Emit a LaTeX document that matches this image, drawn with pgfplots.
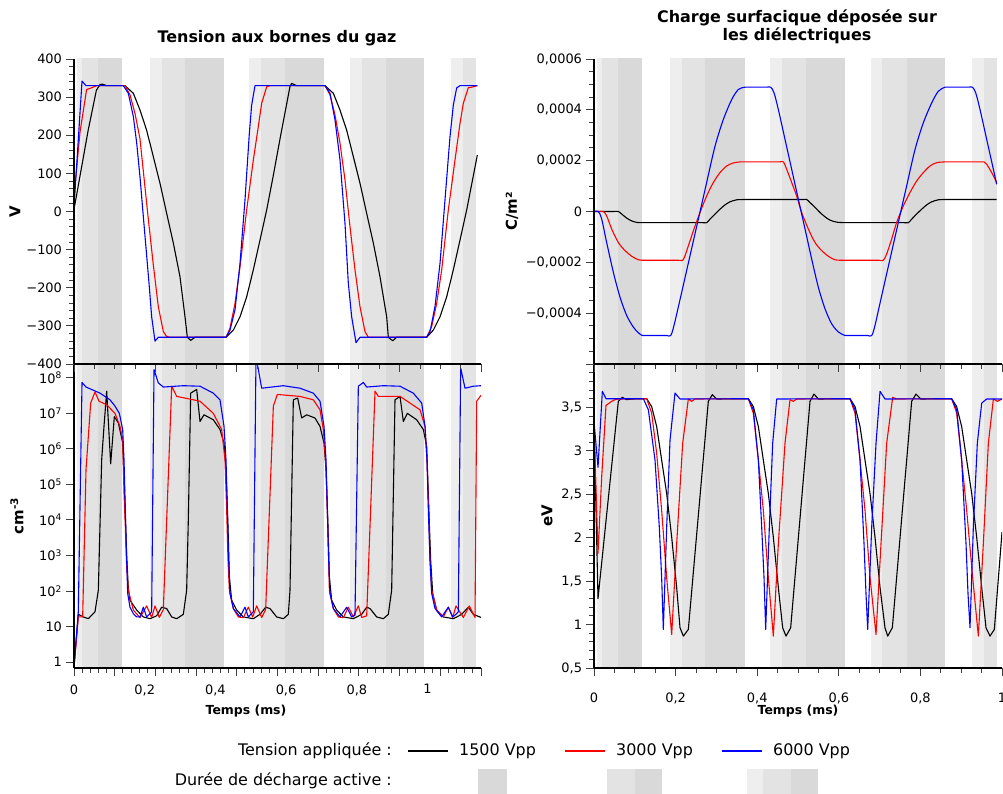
\documentclass[border=0pt]{standalone}
\usepackage{pgfplots}
\pgfplotsset{compat=1.18}
\usepackage{fontspec}
\setmainfont{DejaVu Sans}
\definecolor{shL}{HTML}{EEEEEE}
\definecolor{shM}{HTML}{E3E3E3}
\definecolor{shD}{HTML}{D9D9D9}
\newcommand{\band}[5]{\addplot[draw=none,fill=#1,forget plot] coordinates {(#2,#4) (#3,#4) (#3,#5) (#2,#5)} -- cycle;}
\newcommand{\bands}[2]{%
 \band{shL}{0.008}{0.118}{#1}{#2}%
 \band{shM}{0.019}{0.118}{#1}{#2}%
 \band{shD}{0.058}{0.118}{#1}{#2}%
 \band{shL}{0.1855}{0.369}{#1}{#2}%
 \band{shM}{0.215}{0.369}{#1}{#2}%
 \band{shD}{0.273}{0.369}{#1}{#2}%
 \band{shL}{0.4306}{0.615}{#1}{#2}%
 \band{shM}{0.460}{0.615}{#1}{#2}%
 \band{shD}{0.519}{0.615}{#1}{#2}%
 \band{shL}{0.678}{0.861}{#1}{#2}%
 \band{shM}{0.707}{0.861}{#1}{#2}%
 \band{shD}{0.766}{0.861}{#1}{#2}%
 \band{shL}{0.926}{0.987}{#1}{#2}%
 \band{shM}{0.955}{0.987}{#1}{#2}%
}
\pgfplotsset{
 panel/.style={scale only axis, xmin=0, xmax=1, axis on top,
  axis x line*=bottom, axis y line*=left, tick align=outside,
  axis line style={line width=1.2bp, black},
  major tick length=8.5bp, minor tick length=5bp,
  tick style={line width=0.9bp, black!75},
  tick label style={font=\fontsize{13}{15}\selectfont},
  xticklabel style={yshift=-13bp},
  label style={font=\fontsize{15}{17}\selectfont\bfseries},
  scaled ticks=false, clip=true},
 cv/.style={line width=1.1bp, line join=round},
}
\begin{document}
\begin{tikzpicture}[x=1bp,y=1bp]
\useasboundingbox (0,0) rectangle (1003,794);
% ---------------- bottom-left: density
\begin{axis}[panel, at={(74bp,126bp)}, anchor=south west, width=407bp, height=304bp,
 ymode=log, ymin=0.68, ymax=2.45e8, yminorticks=false,
 ytick={1,10,100,1000,10000,100000,1000000,10000000,100000000},
 yticklabels={1,10,{10\textsuperscript{2}},{10\textsuperscript{3}},{10\textsuperscript{4}},{10\textsuperscript{5}},{10\textsuperscript{6}},{10\textsuperscript{7}},{10\textsuperscript{8}}},
 xtick={0,0.1,0.2,0.3,0.4,0.5,0.6,0.7,0.8,0.9,1}, xticklabels={}, minor x tick num=4,
 extra x ticks={0,0.1737,0.3474,0.521,0.695,0.8686},
 extra x tick labels={0,{0,2},{0,4},{0,6},{0,8},1},
 extra x tick style={major tick length=0pt},
 xlabel={Temps (ms)}, ylabel={cm\textsuperscript{-3}},
 xlabel style={font=\fontsize{12.5}{14}\selectfont\bfseries, at={(axis description cs:0.4226,-0.1414)}, anchor=center},
 ylabel style={at={(axis description cs:-0.14,0.5)}, anchor=center},
]
\bands{0.1}{1e9}
\addplot[cv,black] coordinates {(0,0.72) (0.0106,22) (0.0229,18.6) (0.0352,16.6) (0.0516,26) (0.0598,105) (0.068,4.9e5) (0.0737,4.3e6) (0.0803,4.2e7) (0.0901,3.8e5) (0.0991,8.1e6) (0.1089,5.4e6) (0.1196,1.5e6) (0.1245,5e4) (0.1294,1e3) (0.1335,120) (0.1376,55) (0.154,29) (0.1704,18.6) (0.1867,16.6) (0.2031,20) (0.2154,35) (0.2277,32) (0.24,18.6) (0.2523,16.6) (0.2686,22) (0.2768,105) (0.2809,1e4) (0.2867,3.7e7) (0.3014,4.7e7) (0.3096,5.9e6) (0.3194,9.1e6) (0.3423,6.6e6) (0.3587,3.5e6) (0.3686,1.45e6) (0.3735,2.6e5) (0.3784,6.5e3) (0.3817,250) (0.3874,55) (0.3997,29) (0.4161,18.6) (0.4406,16.6) (0.457,22) (0.4709,35) (0.4816,32) (0.498,18.6) (0.5143,16.6) (0.5266,22) (0.5307,105) (0.5389,2.4e7) (0.5495,2.7e7) (0.5594,7.4e6) (0.5717,9.1e6) (0.5921,7.4e6) (0.6044,4.3e6) (0.6143,1.45e6) (0.6192,2.6e5) (0.6241,6.5e3) (0.6274,250) (0.6331,55) (0.6454,29) (0.6618,18.6) (0.6863,16.6) (0.7068,22) (0.7191,35) (0.7273,32) (0.7437,18.6) (0.76,16.6) (0.7723,22) (0.7805,105) (0.7887,2.4e7) (0.801,3.0e7) (0.8092,5.9e6) (0.819,1.0e7) (0.8419,6.6e6) (0.8583,3.5e6) (0.8665,1.2e6) (0.8706,5e4) (0.8763,740) (0.8813,85) (0.8911,29) (0.9075,18.6) (0.932,16.6) (0.9525,22) (0.9689,35) (0.9812,22) (1.0,18)};
\addplot[cv,red] coordinates {(0,0.72) (0.0106,18.6) (0.0213,18.6) (0.0295,2.6e5) (0.041,1.95e7) (0.0516,4.0e7) (0.0614,2.2e7) (0.0803,1.74e7) (0.1007,1.0e7) (0.113,4.3e6) (0.1196,1.8e6) (0.1229,5.6e4) (0.1261,6.5e3) (0.1294,480) (0.1335,105) (0.1458,29) (0.1622,17.8) (0.1785,38) (0.1908,18) (0.199,38) (0.2097,18) (0.2195,30) (0.24,5.8e7) (0.2523,3.0e7) (0.3096,2.2e7) (0.3423,1.0e7) (0.3628,3.5e6) (0.371,4.9e5) (0.3751,1.9e4) (0.3784,740) (0.3817,105) (0.3915,32) (0.4038,18.6) (0.4161,17.8) (0.4283,35) (0.439,18.6) (0.4488,38) (0.4611,18) (0.4709,30) (0.4898,1.6e7) (0.4996,3.4e7) (0.5553,3.0e7) (0.588,2.4e7) (0.6044,1.26e7) (0.6126,3.5e6) (0.6192,3.0e5) (0.6224,1.9e4) (0.6257,740) (0.6274,105) (0.6372,32) (0.6495,18.6) (0.6618,17.8) (0.674,35) (0.6863,18.6) (0.6986,38) (0.7068,18) (0.7191,20) (0.7396,4.2e7) (0.7477,3.0e7) (0.801,3.0e7) (0.8501,1.26e7) (0.8624,4.3e6) (0.8673,4.9e5) (0.8714,1.9e4) (0.8747,740) (0.8788,105) (0.8911,29) (0.9075,18.6) (0.9197,35) (0.9304,18) (0.9386,38) (0.9566,18) (0.9713,38) (0.9853,18) (0.9894,2.2e7) (1.0,3.2e7)};
\addplot[cv,blue] coordinates {(0,0.72) (0.0106,26) (0.0197,7.4e7) (0.0295,5.5e7) (0.0639,3.7e7) (0.0885,2.4e7) (0.1007,1.6e7) (0.1114,1.0e7) (0.1196,3.5e6) (0.1229,4.9e5) (0.1261,1.9e4) (0.1294,740) (0.1319,85) (0.1376,35) (0.1458,23) (0.154,18.6) (0.1622,18.6) (0.1704,35) (0.1785,18.6) (0.1867,23) (0.1908,26) (0.1966,1.7e8) (0.2072,7.2e7) (0.2195,5.5e7) (0.2686,6.0e7) (0.3096,5.8e7) (0.3423,3.7e7) (0.3587,2.4e7) (0.3686,4.3e6) (0.3735,4.9e5) (0.3767,1.9e4) (0.38,740) (0.3833,85) (0.3915,32) (0.4079,18.6) (0.4201,35) (0.4283,18.6) (0.4406,26) (0.4472,4e8) (0.4611,5.1e7) (0.5143,6.0e7) (0.5553,5.1e7) (0.588,3.7e7) (0.6044,2.2e7) (0.6143,4.3e6) (0.6192,4.9e5) (0.6224,1.9e4) (0.6257,740) (0.629,85) (0.6372,32) (0.6536,18.6) (0.67,35) (0.6822,18.6) (0.6904,21) (0.6986,5.8e7) (0.7109,7.4e7) (0.7191,5.5e7) (0.76,6.0e7) (0.801,5.8e7) (0.8337,3.7e7) (0.8542,1.95e7) (0.8624,4.3e6) (0.8673,4.9e5) (0.8706,1.9e4) (0.8747,740) (0.8788,85) (0.887,32) (0.9034,18.6) (0.9197,35) (0.9304,18.6) (0.9402,23) (0.9443,26) (0.95,1.9e8) (0.9607,5.1e7) (0.9812,5.8e7) (1.0,6.0e7)};
\end{axis}
% ---------------- bottom-right: energy
\begin{axis}[panel, at={(594bp,126bp)}, anchor=south west, width=408bp, height=304bp,
 ymin=0.5, ymax=4, ytick={0.5,1,1.5,2,2.5,3,3.5,4},
 yticklabels={{0,5},1,{1,5},2,{2,5},3,{3,5},{}}, minor y tick num=4,
 xtick={0,0.2,0.4,0.6,0.8,1}, xticklabels={0,{0,2},{0,4},{0,6},{0,8},1}, minor x tick num=3,
 xlabel={Temps (ms)}, ylabel={eV},
 xlabel style={font=\fontsize{12.5}{14}\selectfont\bfseries, at={(axis description cs:0.5,-0.1414)}, anchor=center},
 ylabel style={at={(axis description cs:-0.115,0.5)}, anchor=center},
]
\bands{0}{5}
\addplot[cv,black] coordinates {(0,3.34) (0.0098,1.30) (0.0596,3.57) (0.0694,3.616) (0.0801,3.589) (0.0923,3.597) (0.1291,3.6) (0.1413,3.51) (0.1536,3.28) (0.1658,2.894) (0.1781,2.508) (0.1904,2.006) (0.2026,1.427) (0.2108,0.963) (0.219,0.867) (0.2312,0.944) (0.2557,2.257) (0.2802,3.57) (0.29,3.647) (0.3007,3.597) (0.3783,3.6) (0.3905,3.51) (0.4028,3.28) (0.415,2.894) (0.4273,2.508) (0.4395,2.006) (0.4518,1.427) (0.4624,0.963) (0.4706,0.867) (0.482,0.963) (0.5294,3.57) (0.5392,3.654) (0.5498,3.597) (0.6275,3.6) (0.6397,3.51) (0.652,3.28) (0.6642,2.894) (0.6765,2.508) (0.6887,2.006) (0.701,1.427) (0.7132,0.963) (0.7198,0.867) (0.7312,0.963) (0.7786,3.57) (0.7892,3.654) (0.8007,3.597) (0.8766,3.6) (0.8889,3.51) (0.9011,3.28) (0.9134,2.894) (0.9257,2.508) (0.9379,2.006) (0.9502,1.427) (0.9608,0.963) (0.9706,0.867) (0.9812,0.944) (1.0,2.064)};
\addplot[cv,red] coordinates {(0,3.34) (0.0098,1.82) (0.0188,2.7) (0.0294,3.523) (0.0433,3.57) (0.0515,3.589) (0.0596,3.597) (0.1291,3.6) (0.1413,3.434) (0.1536,2.971) (0.1658,2.315) (0.1781,1.54) (0.1904,0.886) (0.2026,1.93) (0.2173,3.087) (0.2312,3.597) (0.2394,3.57) (0.2475,3.597) (0.3783,3.6) (0.3905,3.434) (0.4028,2.894) (0.415,2.315) (0.4273,1.54) (0.4395,0.867) (0.4518,1.93) (0.4681,3.087) (0.4804,3.589) (0.4886,3.57) (0.4967,3.597) (0.6275,3.6) (0.6397,3.434) (0.652,2.894) (0.6642,2.315) (0.6765,1.54) (0.6912,0.886) (0.7034,1.93) (0.7173,3.087) (0.732,3.616) (0.7418,3.597) (0.8766,3.6) (0.8889,3.434) (0.9011,2.894) (0.9134,2.315) (0.9281,1.54) (0.942,0.867) (0.9542,1.93) (0.9665,3.087) (0.9788,3.597) (0.9886,3.57) (1.0,3.597)};
\addplot[cv,blue] coordinates {(0,3.34) (0.0098,2.81) (0.0204,3.685) (0.0294,3.60) (0.1209,3.60) (0.1332,3.473) (0.1495,2.894) (0.1601,2.12) (0.1658,1.54) (0.1699,0.944) (0.1781,2.12) (0.1863,3.125) (0.1985,3.666) (0.2108,3.597) (0.3783,3.6) (0.3905,3.473) (0.4028,2.894) (0.411,2.12) (0.4167,1.54) (0.4208,0.944) (0.4297,2.12) (0.4379,3.087) (0.4477,3.597) (0.6275,3.6) (0.6397,3.473) (0.652,2.894) (0.6618,1.93) (0.6667,1.35) (0.6708,0.944) (0.6806,2.12) (0.6912,3.087) (0.701,3.685) (0.7132,3.597) (0.8766,3.6) (0.8889,3.473) (0.9011,2.894) (0.9118,1.93) (0.9167,1.35) (0.9216,0.963) (0.9297,2.12) (0.9395,3.087) (0.9502,3.55) (0.9624,3.597) (1.0,3.597)};
\end{axis}
% ---------------- top-left: voltage
\begin{axis}[panel, at={(74bp,430bp)}, anchor=south west, width=407bp, height=305bp,
 ymin=-400, ymax=400, ytick={-400,-300,-200,-100,0,100,200,300,400},
 yticklabels={−400,−300,−200,−100,0,100,200,300,400}, minor y tick num=4,
 xtick={0,0.2,0.4,0.6,0.8,1}, xticklabels={}, minor x tick num=3,
 ylabel={V}, ylabel style={at={(axis description cs:-0.145,0.5)}, anchor=center},
]
\bands{-500}{500}
\addplot[cv,black] coordinates {(0,5) (0.035,214) (0.055,318) (0.064,333) (0.070,334) (0.080,330) (0.1253,330) (0.1458,310) (0.1622,266) (0.1785,213) (0.1949,144) (0.2113,74) (0.2277,-5) (0.2441,-83) (0.2604,-171) (0.2727,-276) (0.2785,-330) (0.2867,-338) (0.2973,-330) (0.3735,-330) (0.3915,-311) (0.4079,-276) (0.4242,-224) (0.4406,-153) (0.457,-75) (0.4734,4) (0.4898,95) (0.5061,190) (0.5225,282) (0.5307,328) (0.5348,336) (0.5471,330) (0.6167,330) (0.6372,310) (0.6536,266) (0.67,213) (0.6863,144) (0.7027,74) (0.7191,-5) (0.7355,-83) (0.7518,-171) (0.7682,-276) (0.7723,-330) (0.783,-339) (0.7928,-330) (0.8665,-330) (0.8829,-311) (0.8993,-276) (0.9156,-224) (0.932,-153) (0.9484,-75) (0.9648,4) (0.991,148)};
\addplot[cv,red] coordinates {(0,40) (0.015,210) (0.031,320) (0.040,323) (0.056,330) (0.1253,330) (0.1376,306) (0.1499,257) (0.1622,190) (0.1704,105) (0.1826,-20) (0.1949,-140) (0.2072,-250) (0.2195,-315) (0.2277,-328) (0.2375,-330) (0.3735,-330) (0.3833,-306) (0.3956,-241) (0.4079,-145) (0.4242,4) (0.4406,135) (0.4529,223) (0.4611,284) (0.4734,327) (0.4816,330) (0.6167,330) (0.629,306) (0.6413,253) (0.6536,179) (0.6658,83) (0.6781,-40) (0.6904,-153) (0.7027,-250) (0.715,-315) (0.7232,-330) (0.8665,-330) (0.8788,-302) (0.8911,-241) (0.9034,-153) (0.9197,4) (0.9361,135) (0.9484,231) (0.9566,284) (0.9689,325) (0.9771,326) (0.991,330)};
\addplot[cv,blue] coordinates {(0,10) (0.0197,342) (0.0295,330) (0.1212,330) (0.1335,310) (0.1458,249) (0.154,180) (0.1622,90) (0.1704,-14) (0.1843,-188) (0.1908,-276) (0.199,-340) (0.2072,-330) (0.3735,-330) (0.3833,-311) (0.3956,-258) (0.4079,-136) (0.4201,30) (0.4308,205) (0.4365,279) (0.4447,330) (0.6167,330) (0.629,310) (0.6413,240) (0.6536,135) (0.6658,-31) (0.674,-188) (0.6822,-276) (0.6929,-344) (0.7027,-330) (0.8665,-330) (0.8747,-315) (0.887,-249) (0.8993,-136) (0.9115,30) (0.9238,196) (0.932,279) (0.9402,324) (0.9484,330) (0.991,330)};
\end{axis}
% ---------------- top-right: surface charge
\begin{axis}[panel, at={(594bp,430bp)}, anchor=south west, width=408bp, height=305bp,
 ymin=-0.0006, ymax=0.0006, ytick={-0.0006,-0.0004,-0.0002,0,0.0002,0.0004,0.0006},
 yticklabels={{},{−0,0004},{−0,0002},0,{0,0002},{0,0004},{0,0006}}, minor y tick num=3,
 xtick={0,0.2,0.4,0.6,0.8,1}, xticklabels={}, minor x tick num=3,
 ylabel={C/m²}, ylabel style={at={(axis description cs:-0.201,0.5)}, anchor=center},
]
\bands{-0.001}{0.001}
\addplot[cv,black,smooth,tension=0.5] coordinates {(0,0) (0.024,0) (0.048,0) (0.0596,0) (0.0678,-0.10e-4) (0.0801,-0.26e-4) (0.0923,-0.37e-4) (0.1046,-0.43e-4) (0.1185,-0.44e-4) (0.13,-0.44e-4) (0.20,-0.44e-4) (0.264,-0.44e-4) (0.2761,-0.44e-4) (0.2843,-0.30e-4) (0.2966,-0.10e-4) (0.3088,0.09e-4) (0.3211,0.26e-4) (0.3333,0.38e-4) (0.3497,0.46e-4) (0.3701,0.47e-4) (0.382,0.47e-4) (0.45,0.47e-4) (0.509,0.47e-4) (0.5212,0.47e-4) (0.5294,0.35e-4) (0.5417,0.16e-4) (0.5539,-0.04e-4) (0.5662,-0.21e-4) (0.5784,-0.34e-4) (0.5948,-0.42e-4) (0.6152,-0.44e-4) (0.627,-0.44e-4) (0.69,-0.44e-4) (0.758,-0.44e-4) (0.7704,-0.44e-4) (0.7786,-0.30e-4) (0.7908,-0.10e-4) (0.8031,0.09e-4) (0.8154,0.26e-4) (0.8276,0.38e-4) (0.8439,0.46e-4) (0.8603,0.47e-4) (0.872,0.47e-4) (0.93,0.47e-4) (0.9869,0.47e-4)};
\addplot[cv,red,smooth,tension=0.5] coordinates {(0,0) (0.011,0) (0.0229,0) (0.031,-0.17e-4) (0.0433,-0.69e-4) (0.0596,-1.22e-4) (0.076,-1.54e-4) (0.0923,-1.76e-4) (0.1087,-1.90e-4) (0.1185,-1.92e-4) (0.1285,-1.92e-4) (0.168,-1.92e-4) (0.2073,-1.92e-4) (0.2173,-1.92e-4) (0.223,-1.74e-4) (0.2312,-1.35e-4) (0.2435,-0.76e-4) (0.2598,-0.04e-4) (0.2761,0.61e-4) (0.2925,1.14e-4) (0.3088,1.53e-4) (0.3252,1.79e-4) (0.3415,1.91e-4) (0.3578,1.95e-4) (0.3678,1.95e-4) (0.411,1.95e-4) (0.4541,1.95e-4) (0.4641,1.95e-4) (0.4722,1.66e-4) (0.4845,1.14e-4) (0.4967,0.61e-4) (0.509,-0.04e-4) (0.5253,-0.69e-4) (0.5417,-1.22e-4) (0.558,-1.54e-4) (0.5743,-1.76e-4) (0.5907,-1.90e-4) (0.6111,-1.92e-4) (0.6211,-1.92e-4) (0.66,-1.92e-4) (0.6992,-1.92e-4) (0.7092,-1.92e-4) (0.7173,-1.67e-4) (0.7296,-1.08e-4) (0.7418,-0.43e-4) (0.7582,0.22e-4) (0.7745,0.75e-4) (0.7908,1.20e-4) (0.8072,1.53e-4) (0.8235,1.79e-4) (0.8399,1.92e-4) (0.8603,1.95e-4) (0.8703,1.95e-4) (0.908,1.95e-4) (0.9459,1.95e-4) (0.9559,1.95e-4) (0.9624,1.86e-4) (0.9747,1.53e-4) (0.9869,1.14e-4)};
\addplot[cv,blue,smooth,tension=0.5] coordinates {(0,0) (0.0106,0) (0.0188,-0.30e-4) (0.031,-1.22e-4) (0.0474,-2.39e-4) (0.0637,-3.37e-4) (0.0801,-4.09e-4) (0.0964,-4.55e-4) (0.1087,-4.77e-4) (0.1185,-4.88e-4) (0.1285,-4.88e-4) (0.1532,-4.88e-4) (0.1779,-4.88e-4) (0.1879,-4.88e-4) (0.1961,-4.48e-4) (0.2149,-3.18e-4) (0.2353,-1.74e-4) (0.2557,-0.30e-4) (0.2761,1.14e-4) (0.2966,2.57e-4) (0.317,3.62e-4) (0.3374,4.40e-4) (0.3538,4.80e-4) (0.3701,4.89e-4) (0.3801,4.89e-4) (0.4015,4.89e-4) (0.423,4.89e-4) (0.433,4.89e-4) (0.4412,4.67e-4) (0.4518,4.01e-4) (0.4681,2.84e-4) (0.4845,1.66e-4) (0.5008,0.48e-4) (0.5172,-0.69e-4) (0.5335,-1.87e-4) (0.5498,-2.98e-4) (0.5662,-3.83e-4) (0.5825,-4.42e-4) (0.5989,-4.74e-4) (0.6152,-4.88e-4) (0.6252,-4.88e-4) (0.648,-4.88e-4) (0.6706,-4.88e-4) (0.6806,-4.88e-4) (0.6887,-4.48e-4) (0.7051,-3.31e-4) (0.7255,-1.87e-4) (0.7459,-0.43e-4) (0.7663,1.01e-4) (0.7868,2.44e-4) (0.8072,3.49e-4) (0.8276,4.27e-4) (0.8439,4.73e-4) (0.8603,4.89e-4) (0.8703,4.89e-4) (0.894,4.89e-4) (0.9173,4.89e-4) (0.9273,4.89e-4) (0.9355,4.67e-4) (0.9461,4.01e-4) (0.9624,2.84e-4) (0.9788,1.66e-4) (0.9869,1.07e-4)};
\end{axis}
% ---------------- titles
\node[font=\fontsize{16}{19}\selectfont\bfseries] at (277,756) {Tension aux bornes du gaz};
\node[font=\fontsize{16}{18}\selectfont\bfseries, align=center] at (797,767) {Charge surfacique déposée sur\\les diélectriques};
% ---------------- legend
\begin{scope}[font=\fontsize{16}{19}\selectfont]
\node[anchor=east, inner sep=0] at (392,43) {Tension appliquée :};
\draw[black, line width=1.1bp] (408,43) -- (448,43);
\node[anchor=west, inner sep=0] at (459,43) {1500 Vpp};
\draw[red, line width=1.1bp] (565,43) -- (605,43);
\node[anchor=west, inner sep=0] at (616,43) {3000 Vpp};
\draw[blue, line width=1.1bp] (722,43) -- (762,43);
\node[anchor=west, inner sep=0] at (773,43) {6000 Vpp};
\node[anchor=east, inner sep=0] at (392,13) {Durée de décharge active :};
\fill[shD] (478,0) rectangle (507,25);
\fill[shM] (607,0) rectangle (635,25);
\fill[shD] (635,0) rectangle (662,25);
\fill[shL] (747,0) rectangle (763,25);
\fill[shM] (763,0) rectangle (791,25);
\fill[shD] (791,0) rectangle (818,25);
\end{scope}
\end{tikzpicture}
\end{document}
